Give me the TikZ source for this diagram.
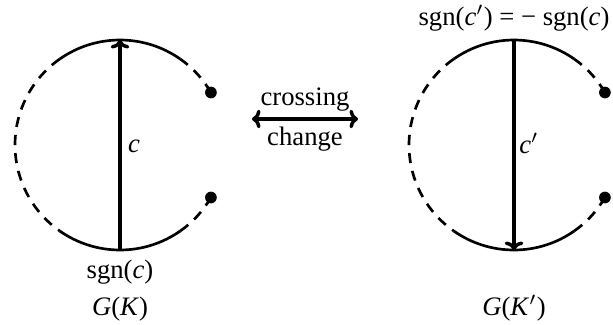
\documentclass[tikz,border=0pt]{standalone}
\usepackage{fontspec}
\setmainfont{Liberation Serif}
\usetikzlibrary{arrows.meta}
\begin{document}
\begin{tikzpicture}[x=0.375pt,y=0.375pt,
  solidarc/.style={line width=1pt},
  dasharc/.style={line width=1pt, dash pattern=on 3.8pt off 3pt},
  chord/.style={line width=1.3pt, -{To[length=3.2pt,width=7pt]}},
  swap/.style={line width=1.3pt, {To[length=3.2pt,width=7pt]}-{To[length=3.2pt,width=7pt]}},
  dot/.style={circle, fill, inner sep=0pt, minimum size=4.4pt},
  lbl/.style={inner sep=0pt, anchor=base, font=\fontsize{10}{12}\selectfont}]
\useasboundingbox (0,0) rectangle (613,324);
% left diagram
\coordinate (L) at (120,179);
\draw[solidarc] ([shift={(55:105)}]L) arc (55:125:105);
\draw[dasharc] ([shift={(125:105)}]L) arc (125:235:105);
\draw[solidarc] ([shift={(235:105)}]L) arc (235:305:105);
\draw[dasharc] ([shift={(305:105)}]L) arc (305:330:105);
\draw[dasharc] ([shift={(30:105)}]L) arc (30:55:105);
\node[dot] (Ld1) at ([shift={(30:105)}]L) {};
\node[dot] (Ld2) at ([shift={(-30:105)}]L) {};
\coordinate (Lb) at ([shift={(-90:105)}]L);
\coordinate (Lt) at ([shift={(90:105)}]L);
\draw[chord] (Lb) -- (Lt);
\node[lbl] (lc) at (134,172) {\textit{c}};
\node[lbl] (lsgn) at (120,46) {sgn(\textit{c})};
\node[lbl] (lG) at (120,9) {\textit{G}(\textit{K})};
% middle
\coordinate (Ma) at (252,205);
\coordinate (Mb) at (358,205);
\draw[swap] (Ma) -- (Mb);
\node[lbl] (cross) at (305,219) {crossing};
\node[lbl] (chg) at (305,179) {change};
% right diagram
\coordinate (R) at (514,179);
\draw[solidarc] ([shift={(55:105)}]R) arc (55:125:105);
\draw[dasharc] ([shift={(125:105)}]R) arc (125:235:105);
\draw[solidarc] ([shift={(235:105)}]R) arc (235:305:105);
\draw[dasharc] ([shift={(305:105)}]R) arc (305:330:105);
\draw[dasharc] ([shift={(30:105)}]R) arc (30:55:105);
\node[dot] (Rd1) at ([shift={(30:105)}]R) {};
\node[dot] (Rd2) at ([shift={(-30:105)}]R) {};
\coordinate (Rb) at ([shift={(-90:105)}]R);
\coordinate (Rt) at ([shift={(90:105)}]R);
\draw[chord] (Rt) -- (Rb);
\node[lbl] (rc) at (529,171) {\textit{c}$'$};
\node[lbl] (rsgn) at (514,299) {sgn(\textit{c}$'$) = − sgn(\textit{c})};
\node[lbl] (rG) at (514,9) {\textit{G}(\textit{K}$'$)};
\end{tikzpicture}
\end{document}
